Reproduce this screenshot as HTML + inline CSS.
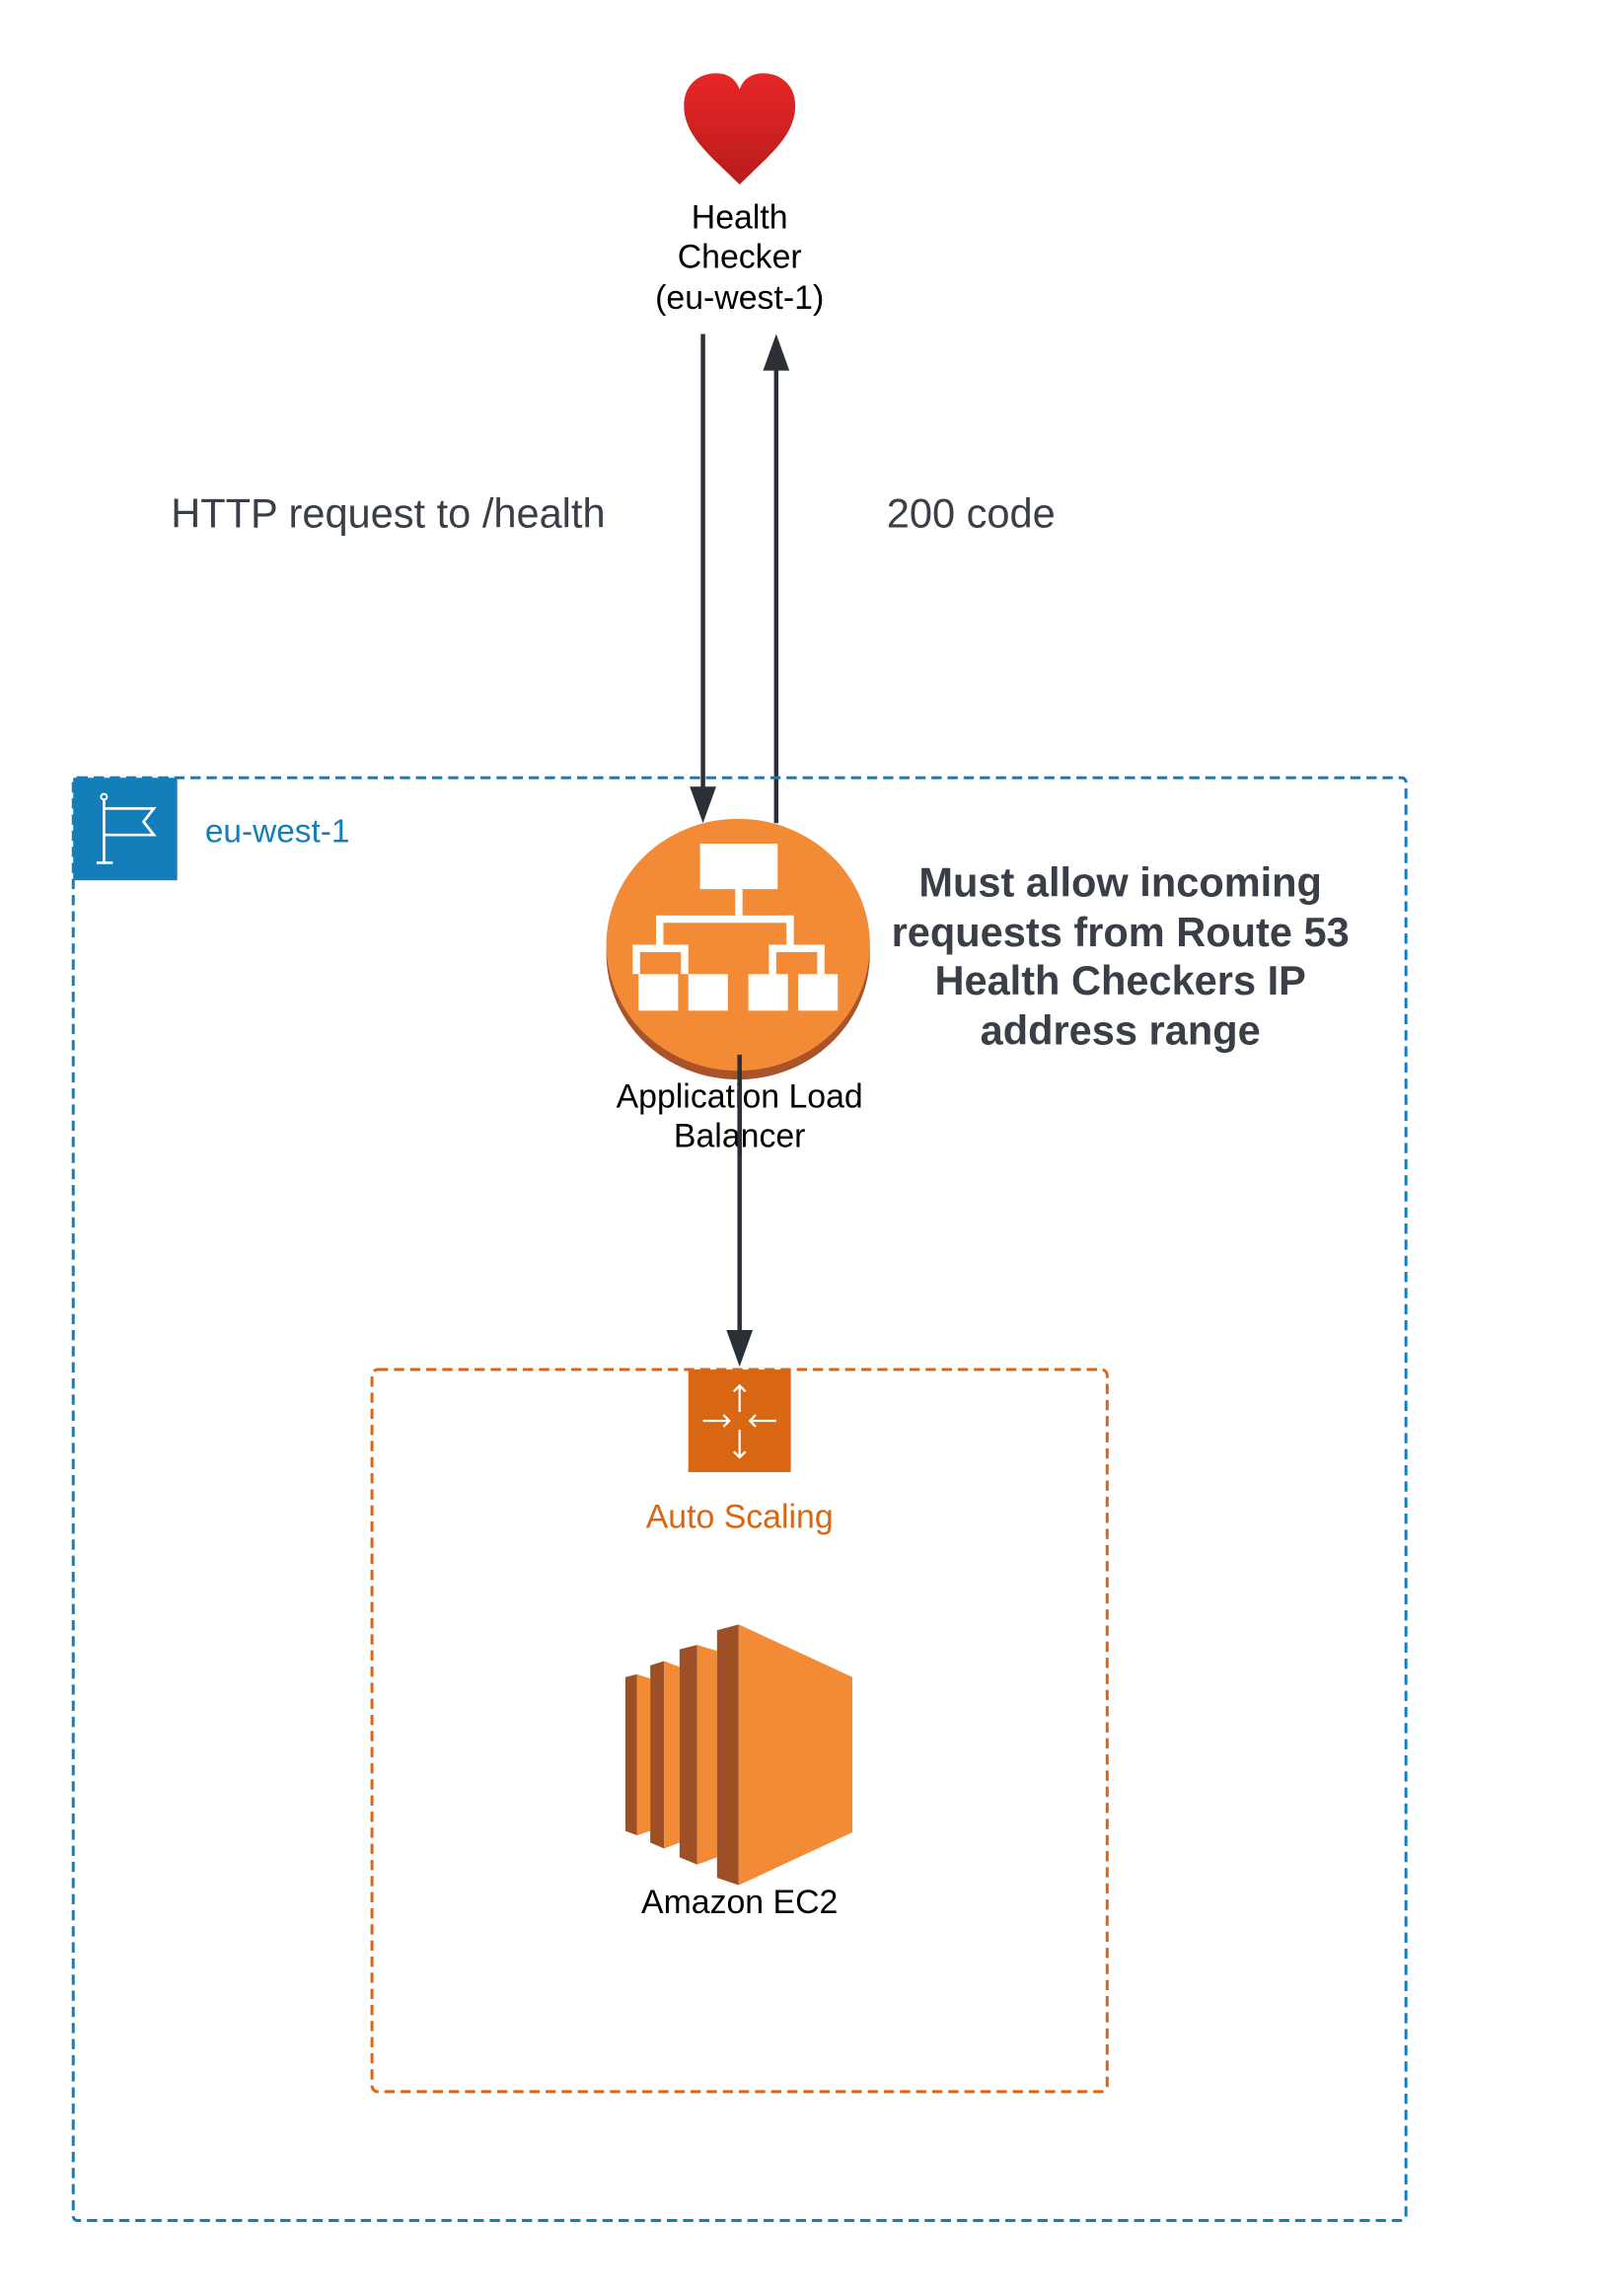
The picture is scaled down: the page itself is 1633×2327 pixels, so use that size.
<!DOCTYPE html>
<html><head><meta charset="utf-8"><style>
html,body{margin:0;padding:0;background:#fff;}
svg{display:block;}
text{font-family:"Liberation Sans",Arial,sans-serif;}
</style></head><body>
<svg width="1633" height="2327" viewBox="0 0 1100 1567.5" xmlns="http://www.w3.org/2000/svg">
<defs>
<linearGradient id="hg" x1="0" y1="0" x2="0" y2="1">
<stop offset="0" stop-color="#e82626"/><stop offset="1" stop-color="#b81c1c"/>
</linearGradient>
</defs>
<rect width="1100" height="1567.5" fill="#fff"/>
<path d="M505,126 C485,106 467,93 467,72 C467,58 477,50 489,50 C498,50 503,55 505,61 C507,55 512,50 521,50 C533,50 543,58 543,72 C543,93 525,106 505,126 Z" fill="url(#hg)"/>
<g font-size="22.8" fill="#000" text-anchor="middle">
<text x="505" y="156">Health</text>
<text x="505" y="183">Checker</text>
<text x="505" y="211">(eu-west-1)</text>
</g>
<g stroke="#2b3037" stroke-width="3" fill="#2b3037">
<line x1="480" y1="228" x2="480" y2="540"/>
<line x1="530" y1="252" x2="530" y2="562"/>
<line x1="505" y1="735" x2="505" y2="910"/>
</g>
<g fill="#2b3037">
<polygon points="471,537 489,537 480,562"/>
<polygon points="521,253 539,253 530,228"/>
<polygon points="496,908 514,908 505,933"/>
</g>
<g font-size="28" fill="#3a3f47" text-anchor="middle">
<text x="265" y="360">HTTP request to /health</text>
<text x="663" y="360">200 code</text>
</g>
<rect x="50" y="531" width="910" height="985" rx="3" fill="none" stroke="#147eba" stroke-width="2" stroke-dasharray="7,4"/>
<rect x="50" y="531" width="71" height="70" fill="#147eba"/>
<g stroke="#fff" stroke-width="1.8" fill="none">
<line x1="71" y1="545" x2="71" y2="589"/>
<line x1="66" y1="589" x2="77" y2="589"/>
<polyline points="71,552 105,552 98,561 105,570 71,570"/>
</g>
<circle cx="71" cy="544" r="2" fill="none" stroke="#fff" stroke-width="1.3"/>
<text x="140" y="575" font-size="22.5" fill="#147eba">eu-west-1</text>
<ellipse cx="504" cy="651" rx="90" ry="86" fill="#a9532a"/>
<ellipse cx="504" cy="645" rx="90" ry="86" fill="#f38b36"/>
<g fill="#fff">
<rect x="478" y="576" width="53" height="31"/>
<rect x="502" y="607" width="5" height="18"/>
<rect x="448" y="625" width="94" height="5"/>
<rect x="448" y="625" width="5" height="20"/>
<rect x="537" y="625" width="5" height="20"/>
<rect x="432" y="645" width="38" height="5"/>
<rect x="525" y="645" width="38" height="5"/>
<rect x="432" y="645" width="5" height="20"/>
<rect x="465" y="645" width="5" height="20"/>
<rect x="525" y="645" width="5" height="20"/>
<rect x="558" y="645" width="5" height="20"/>
<rect x="436" y="665" width="27" height="25"/>
<rect x="470" y="665" width="27" height="25"/>
<rect x="511" y="665" width="27" height="25"/>
<rect x="545" y="665" width="27" height="25"/>
</g>
<g font-size="22.8" fill="#000" text-anchor="middle">
<text x="505" y="756">Application Load</text>
<text x="505" y="783">Balancer</text>
</g>
<line x1="505" y1="720" x2="505" y2="790" stroke="#2b3037" stroke-width="3"/>
<g font-size="28" font-weight="bold" fill="#3a3f47" text-anchor="middle">
<text x="765" y="612">Must allow incoming</text>
<text x="765" y="646">requests from Route 53</text>
<text x="765" y="679">Health Checkers IP</text>
<text x="765" y="713">address range</text>
</g>
<rect x="254" y="935" width="502" height="493" rx="4" fill="none" stroke="#d86613" stroke-width="2" stroke-dasharray="7,4"/>
<rect x="470" y="935" width="70" height="70" fill="#d86613"/>
<g stroke="#fff" stroke-width="1.5" fill="none">
<line x1="505" y1="946" x2="505" y2="964"/><polyline points="501,950 505,946 509,950"/>
<line x1="505" y1="976" x2="505" y2="995"/><polyline points="501,991 505,995 509,991"/>
<line x1="480" y1="970" x2="498" y2="970"/><polyline points="494,966 498,970 494,974"/>
<line x1="512" y1="970" x2="530" y2="970"/><polyline points="516,966 512,970 516,974"/>
</g>
<text x="505" y="1043" font-size="22.8" fill="#d86613" text-anchor="middle">Auto Scaling</text>
<polygon points="427,1145 435,1143 435,1253 427,1250" fill="#9d5025"/>
<polygon points="435,1143 444,1146 444,1250 435,1253" fill="#f38b36"/>
<polygon points="444,1137 453.5,1134 453.5,1262 444,1258" fill="#9d5025"/>
<polygon points="453.5,1134 464,1138 464,1258 453.5,1262" fill="#f38b36"/>
<polygon points="464,1126 476,1123 476,1273 464,1268" fill="#9d5025"/>
<polygon points="476,1123 489.6,1127 489.6,1268 476,1273" fill="#f38b36"/>
<polygon points="489.6,1113 504.4,1109 504.4,1287 489.6,1282" fill="#9d5025"/>
<polygon points="504.4,1109 582,1145 582,1251 504.4,1287" fill="#f38b36"/>
<text x="505" y="1306" font-size="22.8" fill="#000" text-anchor="middle">Amazon EC2</text>
</svg>
</body></html>
